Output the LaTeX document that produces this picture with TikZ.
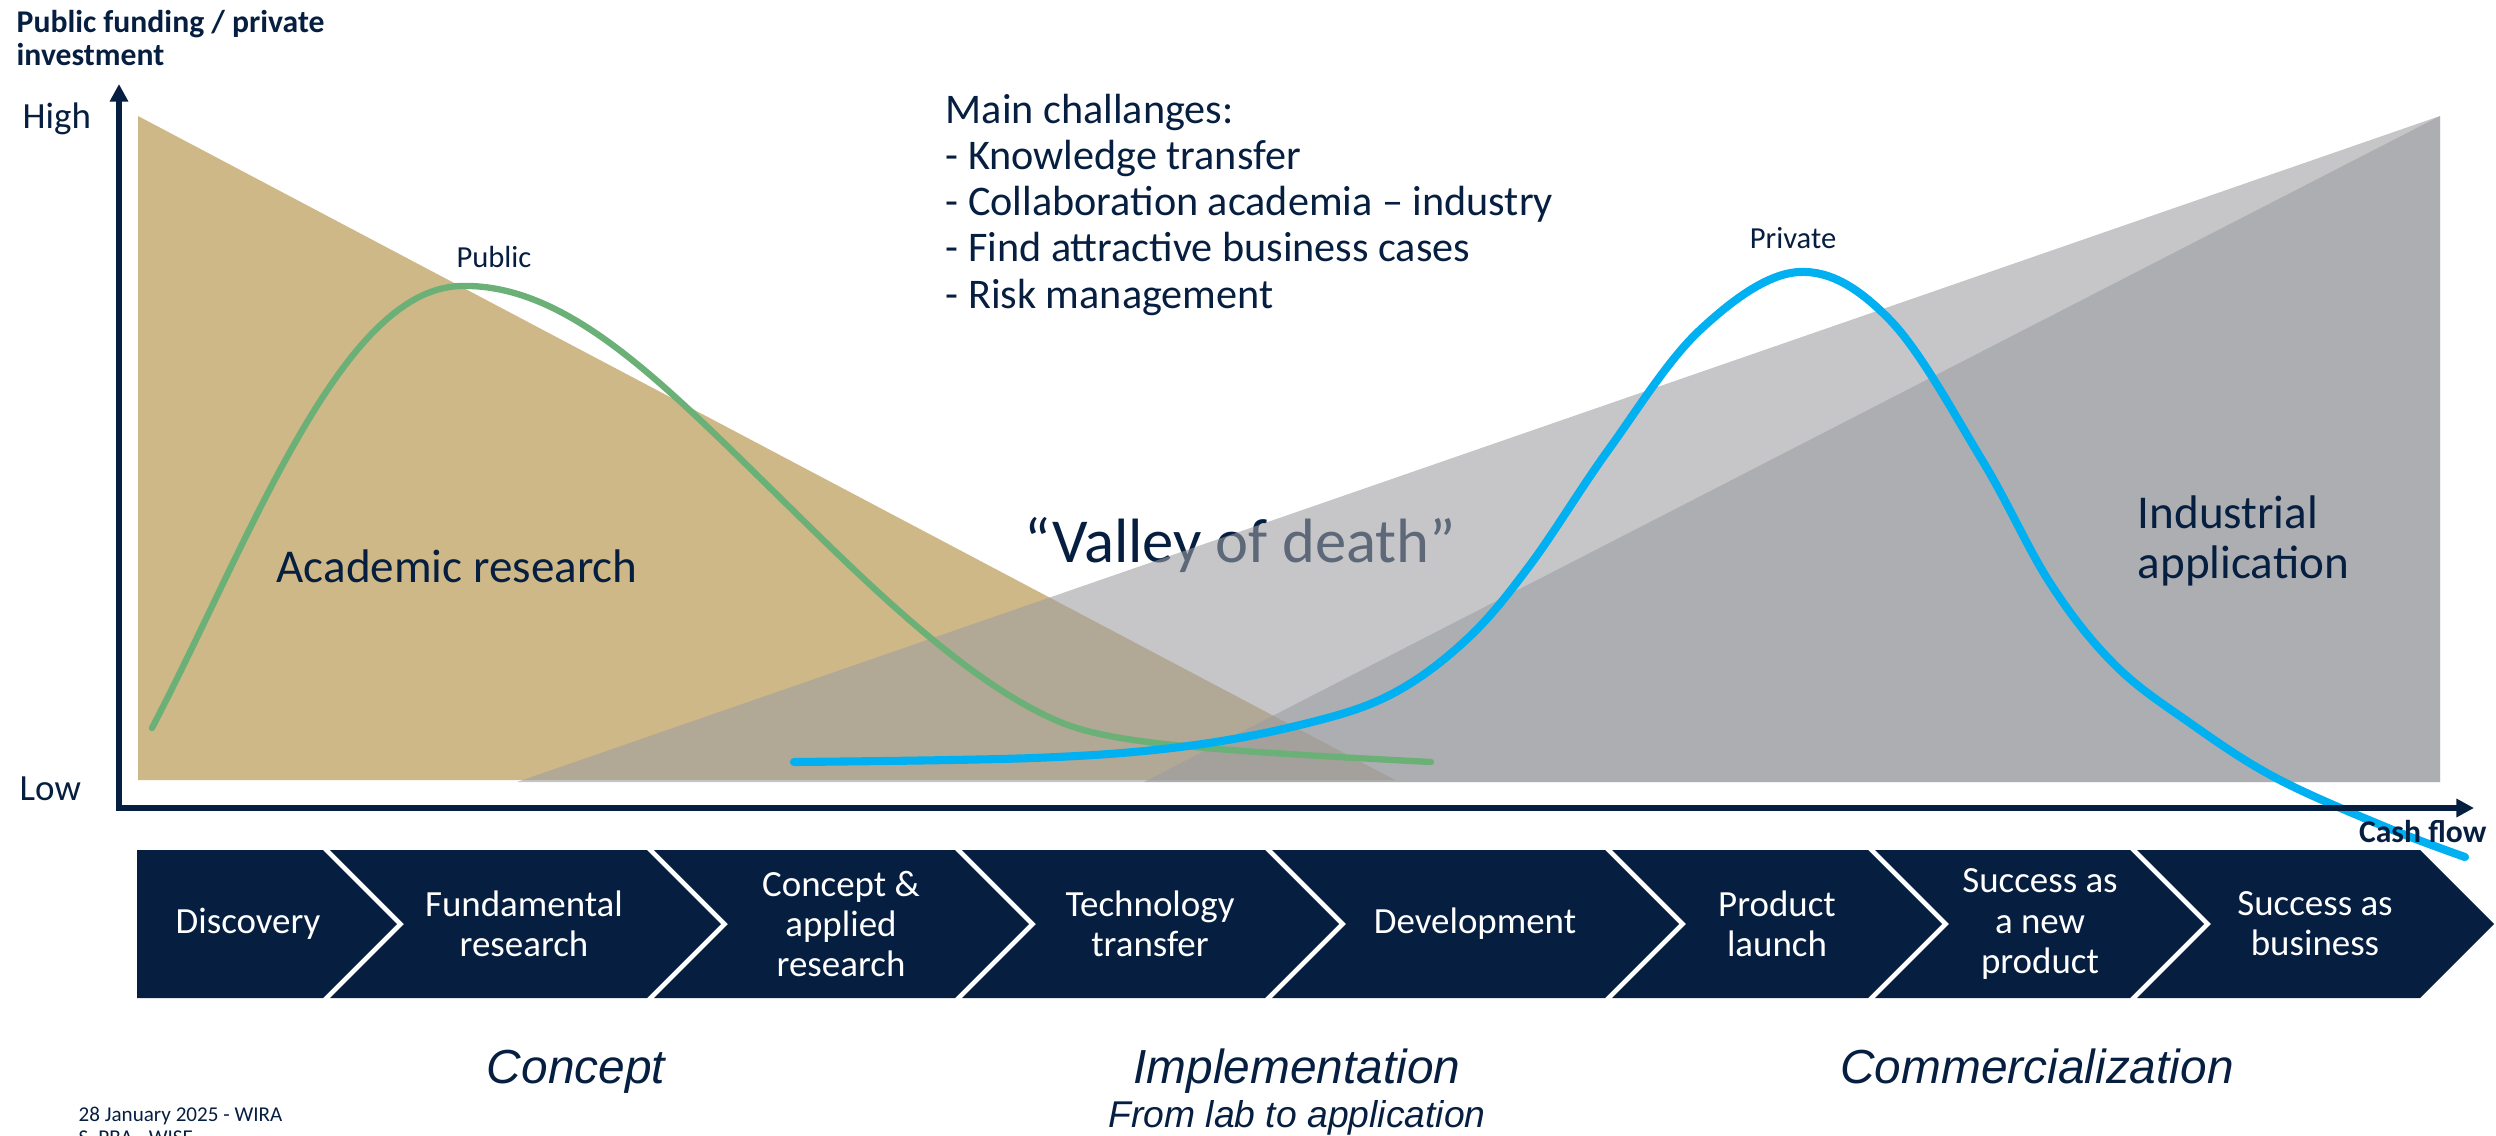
\documentclass[tikz,border=0pt]{standalone}
\usepackage{fontspec}
\setmainfont{Carlito}
\newfontfamily\arialfont{Liberation Sans}
\usetikzlibrary{arrows.meta}
\definecolor{wiraNavy}{RGB}{6,31,65}
\definecolor{wiraTan}{RGB}{207,184,135}
\definecolor{wiraGray}{RGB}{156,157,161}
\definecolor{wiraGreen}{RGB}{107,176,119}
\definecolor{wiraBlue}{RGB}{0,176,240}

\begin{document}
\begin{tikzpicture}[x=0.01cm, y=-0.01cm]
    \tikzstyle{lbl} = [text=wiraNavy, inner sep=0pt]
    \tikzstyle{chevron} = [fill=wiraNavy]
    \tikzstyle{chevtext} = [text=white, align=center, inner sep=0pt, font=\fontsize{10.5}{11.4}\selectfont]
    \tikzstyle{phase} = [lbl, font=\arialfont\itshape\fontsize{13.6}{16}\selectfont]
    \tikzstyle{axis} = [draw=wiraNavy, line width=1.5pt]
    \tikzstyle{curve} = [line width=1.8pt, line cap=round]

    \useasboundingbox (0,0) rectangle (2496,1136);

    % funding areas
    \fill[wiraTan] (138,116) -- (1395,780) -- (138,780) -- cycle;
    \node[lbl, font=\fontsize{17.8}{20}\selectfont, anchor=base] (valley) at (1240,562) {“Valley of death”};
    \fill[wiraGray, opacity=0.58] (517,782) -- (2440,116) -- (2440,782) -- cycle;
    \fill[wiraGray, opacity=0.58] (1144,782) -- (2440,116) -- (2440,782) -- cycle;

    % curves
    \draw[curve, wiraGreen] (152,728) .. controls (250,540) and (340,290) .. (460,286)
        .. controls (560,283) and (650,370) .. (760,478)
        .. controls (850,566) and (960,680) .. (1060,722)
        .. controls (1110,743) and (1200,750) .. (1431,762);
    \draw[curve, wiraBlue, line width=2.3pt] plot[smooth, tension=0.6] coordinates {(794,762) (1033,758) (1180,747) (1300,725) (1390,695) (1466,640) (1530,565) (1609,449) (1700,330) (1799,272) (1890,320) (1982,460) (2050,583) (2115,665) (2190,723) (2276,778) (2388,828) (2465,857)};

    \node[lbl, font=\fontsize{8.7}{10}\selectfont, anchor=base] (public) at (494,267) {Public};
    \node[lbl, font=\fontsize{8.7}{10}\selectfont, anchor=base] (private) at (1793,248) {Private};
    \node[lbl, font=\fontsize{13.4}{15}\selectfont, anchor=base] (academic) at (457,582) {Academic research};
    \node[lbl, font=\fontsize{13.4}{15}\selectfont, anchor=base west] (industrial) at (2137,528) {Industrial};
    \node[lbl, font=\fontsize{13.4}{15}\selectfont, anchor=base west] (application) at (2137,578) {application};

    % challenges
    \foreach \t [count=\k from 0] in {Main challanges:, - Knowledge transfer, - Collaboration academia – industry, - Find attractive business cases, - Risk management}
        \node[lbl, font=\fontsize{12}{13.2}\selectfont, anchor=base west] (chal\k) at (945,123+46.25*\k) {\t};

    % axes
    \coordinate (ytop) at (119,84);
    \coordinate (origin) at (119,808);
    \coordinate (xend) at (2474,808);
    \draw[axis, {Triangle[length=5pt, width=5pt]}-{Triangle[length=5pt, width=5pt]}] (ytop) -- (origin) -- (xend);
    \node[lbl, font=\bfseries\fontsize{9}{10}\selectfont, anchor=base west] (ytitle1) at (16,32) {Public funding / private};
    \node[lbl, font=\bfseries\fontsize{9}{10}\selectfont, anchor=base west] (ytitle2) at (16,65) {investment};
    \node[lbl, font=\fontsize{10.5}{12}\selectfont, anchor=base west] (high) at (22,128) {High};
    \node[lbl, font=\fontsize{10.5}{12}\selectfont, anchor=base west] (low) at (19,800) {Low};
    \node[lbl, font=\bfseries\fontsize{9}{10}\selectfont, anchor=base east] (cash) at (2487,842) {Cash flow};

    % value chain
    \foreach \lx/\rx/\nd/\tx/\txt [count=\i] in {
        137/323/0/248/Discovery,
        330/647/74/524/{Fundamental\\research},
        654/955/74/841/{Concept \&\\applied\\research},
        962/1265/74/1150/{Technology\\transfer},
        1272/1605/74/1475/Development,
        1612/1868/74/1777/{Product\\launch},
        1875/2130/74/2040/{Success as\\a new\\product},
        2137/2420/74/2315/{Success as\\business}}
    {
        \fill[chevron] (\lx,850) -- (\rx,850) -- (\rx+74,924) -- (\rx,998) -- (\lx,998) -- (\lx+\nd,924) -- cycle;
        \node[chevtext] (stage\i) at (\tx,924) {\txt};
    }

    % phases
    \node[phase, anchor=base] (concept) at (576,1083) {Concept};
    \node[phase, anchor=base] (implementation) at (1297,1083) {Implementation};
    \node[phase, font=\arialfont\itshape\fontsize{10.6}{12}\selectfont, anchor=base] (fromlab) at (1297,1127) {From lab to application};
    \node[phase, anchor=base] (commercial) at (2037,1083) {Commercialization};

    % footer
    \node[lbl, font=\fontsize{6}{7}\selectfont, anchor=base west] (date) at (78,1121) {28 January 2025 - WIRA};
    \node[lbl, font=\fontsize{6}{7}\selectfont, anchor=base west] (org) at (78,1144) {S. PBA - WISE};
\end{tikzpicture}
\end{document}
